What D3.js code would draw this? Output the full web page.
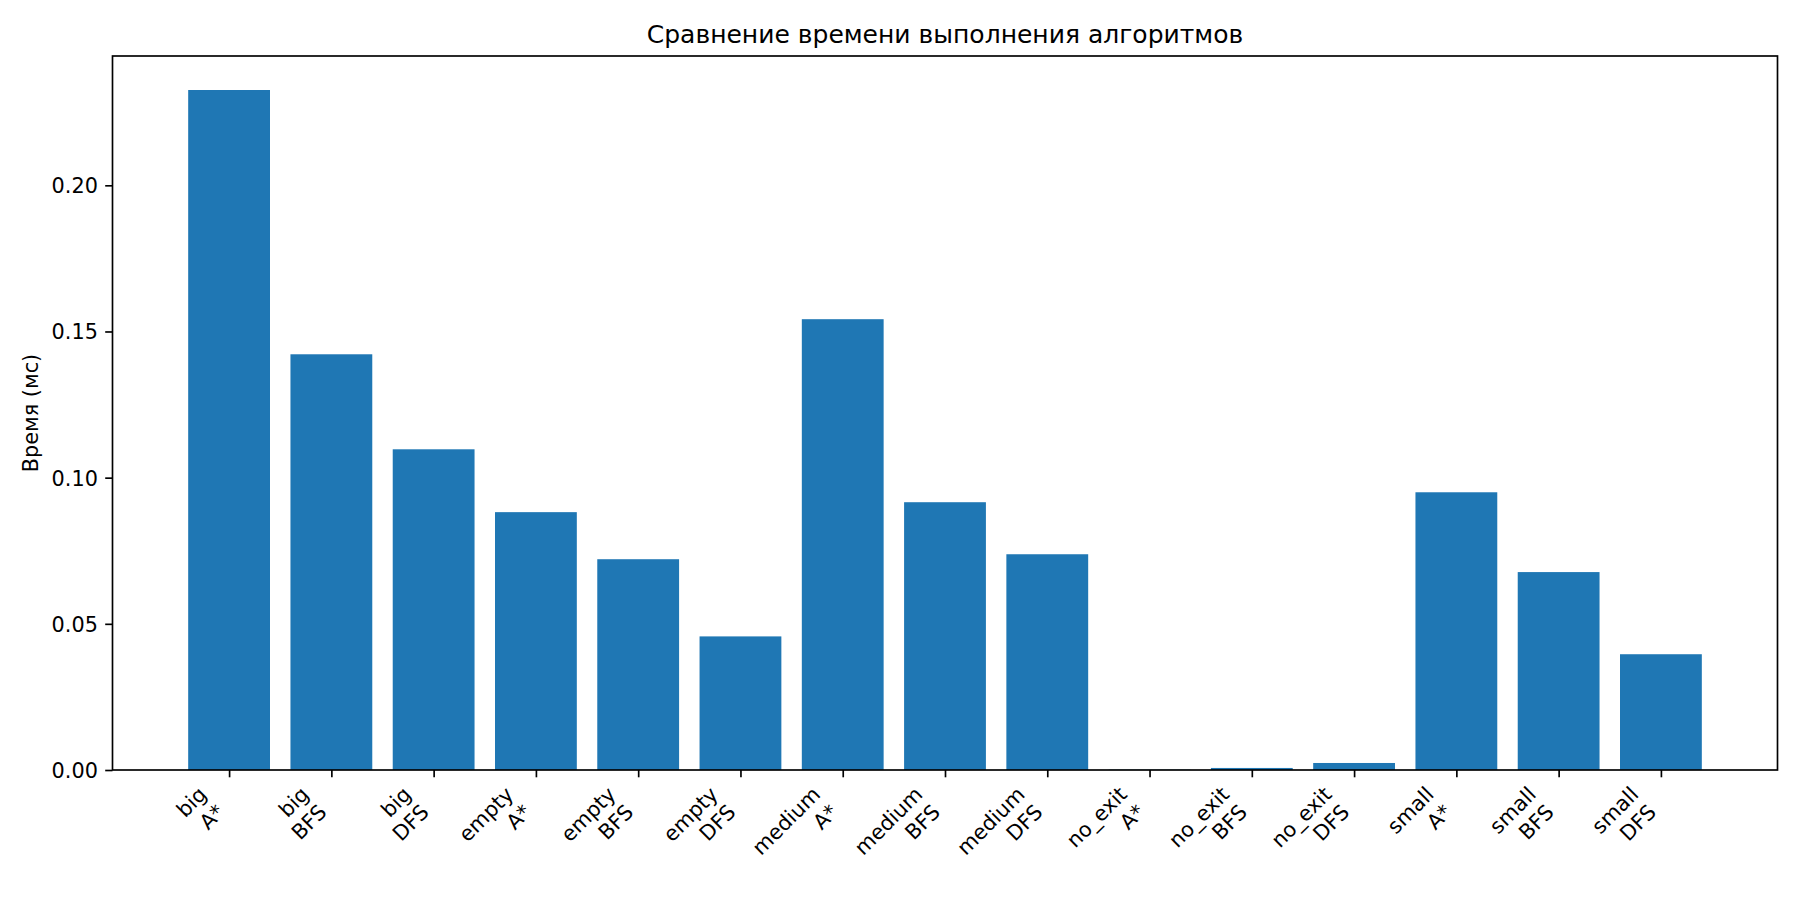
<!DOCTYPE html>
<html><head><meta charset="utf-8">
<script src="https://cdn.jsdelivr.net/npm/d3@7"></script>
<style>body{margin:0;background:#fff}svg{display:block}text{font-family:"DejaVu Sans",sans-serif}</style>
</head><body>
<svg id="c" width="1800" height="900"></svg>
<script>
const categories = ["big\nA*","big\nBFS","big\nDFS","empty\nA*","empty\nBFS","empty\nDFS","medium\nA*","medium\nBFS","medium\nDFS","no_exit\nA*","no_exit\nBFS","no_exit\nDFS","small\nA*","small\nBFS","small\nDFS"];
const values = [0.2326,0.1422,0.1097,0.0882,0.0721,0.0457,0.1542,0.0916,0.0738,0.0001,0.0007,0.0024,0.0950,0.0677,0.0396];
const yTicks = [0.00,0.05,0.10,0.15,0.20];
const title = "Сравнение времени выполнения алгоритмов";
const yLabel = "Время (мс)";

const svg = d3.select("#c");
const L=112.5, R=1777.5, T=56, B=770;
const n = categories.length, bw = 0.8;
const xm = (n-1+bw)*0.05;
const x = d3.scaleLinear().domain([-bw/2-xm, n-1+bw/2+xm]).range([L,R]);
const y = d3.scaleLinear().domain([0, d3.max(values)*1.05]).range([B,T]);
const fs = 20.8;

svg.append("g").selectAll("rect").data(values).join("rect")
  .attr("x",(d,i)=>x(i-bw/2)).attr("width",(d,i)=>x(i+bw/2)-x(i-bw/2))
  .attr("y",d=>y(d)).attr("height",d=>B-y(d)).attr("fill","#1f77b4");

// y axis
const ya = svg.append("g").attr("transform",`translate(${L},0)`)
  .call(d3.axisLeft(y).tickValues(yTicks).tickFormat(d3.format(".2f")).tickSize(7.3).tickPadding(7.3));
ya.select(".domain").remove();
ya.selectAll("line").attr("stroke","#000").attr("stroke-width",1.67);
ya.selectAll("text").attr("font-size",fs).attr("font-family","DejaVu Sans").attr("fill","#000").attr("dy","0.36em");

// x axis ticks
const xa = svg.append("g").attr("transform",`translate(0,${B})`)
  .call(d3.axisBottom(x).tickValues(d3.range(n)).tickFormat("").tickSize(7.3));
xa.select(".domain").remove();
xa.selectAll("line").attr("stroke","#000").attr("stroke-width",1.67);

// x tick labels, matplotlib style rotation=45 ha=right
const top0 = B + 7.3 + 7.3;
const lh = 1.2*fs, asc = 0.76*fs, desc = 0.24*fs;
const c = Math.SQRT1_2;
categories.forEach((cat,i)=>{
  const lines = cat.split("\n");
  const g = svg.append("g");
  const inner = g.append("g").attr("transform","rotate(-45)");
  let w = 0;
  lines.forEach((ln,j)=>{
    const t = inner.append("text").attr("x",0).attr("y",j*lh).attr("text-anchor","end")
      .attr("font-size",fs).attr("fill","#000").text(ln);
    w = Math.max(w, t.node().getComputedTextLength());
  });
  const corners = [[-w,-asc],[0,-asc],[-w,(lines.length-1)*lh+desc],[0,(lines.length-1)*lh+desc]];
  const rx = corners.map(([a,b])=>c*a + c*b);
  const ry = corners.map(([a,b])=>-c*a + c*b);
  const tx = x(i) - d3.max(rx), ty = top0 - d3.min(ry);
  g.attr("transform",`translate(${tx},${ty})`);
});

// spines
svg.append("rect").attr("x",L).attr("y",T).attr("width",R-L).attr("height",B-T)
  .attr("fill","none").attr("stroke","#000").attr("stroke-width",1.67);

svg.append("text").attr("x",(L+R)/2).attr("y",T-13).attr("text-anchor","middle")
  .attr("font-size",25).attr("fill","#000").text(title);
svg.append("text").attr("transform",`translate(38,${(T+B)/2}) rotate(-90)`).attr("text-anchor","middle")
  .attr("font-size",fs).attr("fill","#000").text(yLabel);
</script>
</body></html>
